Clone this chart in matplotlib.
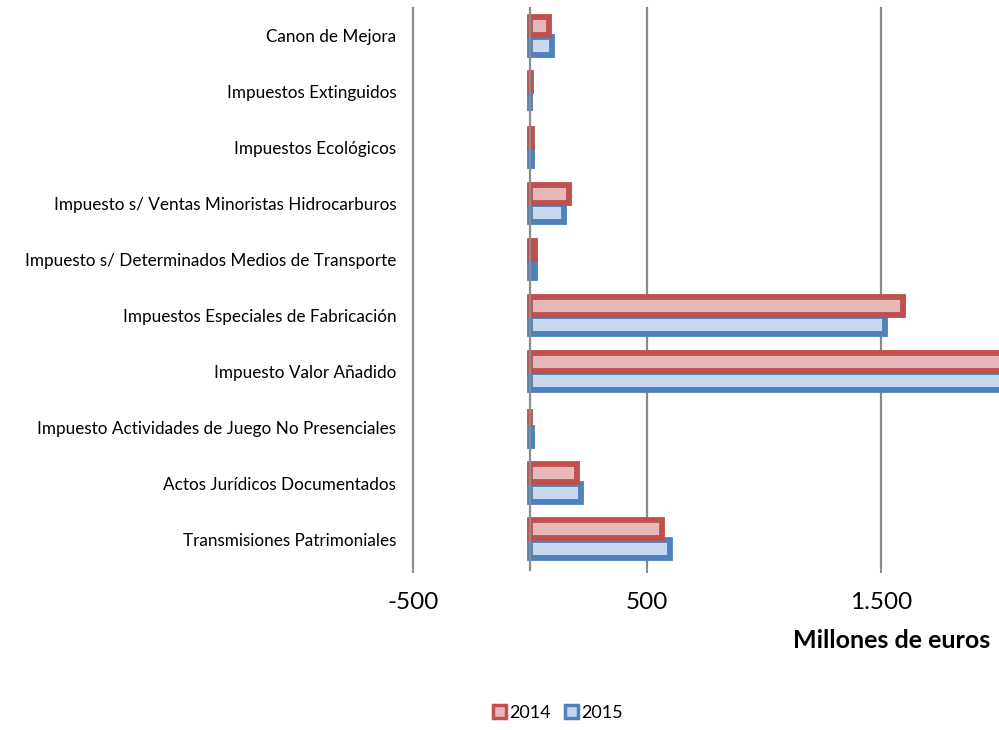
import matplotlib
matplotlib.use("Agg")
import matplotlib.pyplot as plt
import numpy as np
from matplotlib.patches import Patch

categories = [
    "Canon de Mejora",
    "Impuestos Extinguidos",
    "Impuestos Ecológicos",
    "Impuesto s/ Ventas Minoristas Hidrocarburos",
    "Impuesto s/ Determinados Medios de Transporte",
    "Impuestos Especiales de Fabricación",
    "Impuesto Valor Añadido",
    "Impuesto Actividades de Juego No Presenciales",
    "Actos Jurídicos Documentados",
    "Transmisiones Patrimoniales",
]
values_2014 = [83, 6, 8, 165, 23, 1592, 2350, 2, 199, 566]
values_2015 = [96, 0, 7, 147, 20, 1515, 2480, 8, 220, 600]
series_labels = ["2014", "2015"]
tick_values = [-500, 500, 1500]
tick_labels = ["-500", "500", "1.500"]

red_edge, red_fill = "#C0504D", "#E6B9B8"
blue_edge, blue_fill = "#4F81BD", "#C6D9F1"
grid_col = "#8C8C8C"

plt.rcParams['font.family'] = ['Lato', 'DejaVu Sans']

fig = plt.figure(figsize=(9.99, 7.30), dpi=100)
ax = fig.add_axes([413/999, 163/730, 1 - 413/999, (567-8)/730])

y = np.arange(len(categories))
h = 0.32
off = 0.175
ax.barh(y + off, values_2015, height=h, color=blue_fill, edgecolor=blue_edge,
        linewidth=4.2, zorder=3)
ax.barh(y - off, values_2014, height=h, color=red_fill, edgecolor=red_edge,
        linewidth=4.2, zorder=4)

ax.set_xlim(-500, 2004)
ax.set_ylim(len(categories) - 0.5, -0.5)

ax.set_xticks(tick_values)
ax.set_xticklabels(tick_labels, fontsize=17.5)
ax.tick_params(axis='x', length=4, width=1.4, color=grid_col, pad=14)
ax.set_yticks(y)
ax.set_yticklabels(categories, fontsize=12.3)
ax.tick_params(axis='y', length=0, pad=12)
for s in ax.spines.values():
    s.set_visible(False)
for tv in tick_values:
    ax.axvline(tv, color=grid_col, linewidth=1.6, zorder=1, clip_on=False)
ax.axvline(0, color=grid_col, linewidth=1.6, zorder=5, ymin=-0.006, clip_on=False)

fig.text(990/999, 1 - 641/730, "Millones de euros", fontsize=18, fontweight='bold',
         ha='right', va='center')

handles = [Patch(facecolor=red_fill, edgecolor=red_edge, linewidth=2.5),
           Patch(facecolor=blue_fill, edgecolor=blue_edge, linewidth=2.5)]
fig.legend(handles, series_labels, loc='center', bbox_to_anchor=(558/999, 1 - 713/730),
           ncol=2, frameon=False, fontsize=13, handlelength=0.7, handleheight=0.7,
           handletextpad=0.2, columnspacing=0.8)

fig.savefig("out.png", dpi=100)
